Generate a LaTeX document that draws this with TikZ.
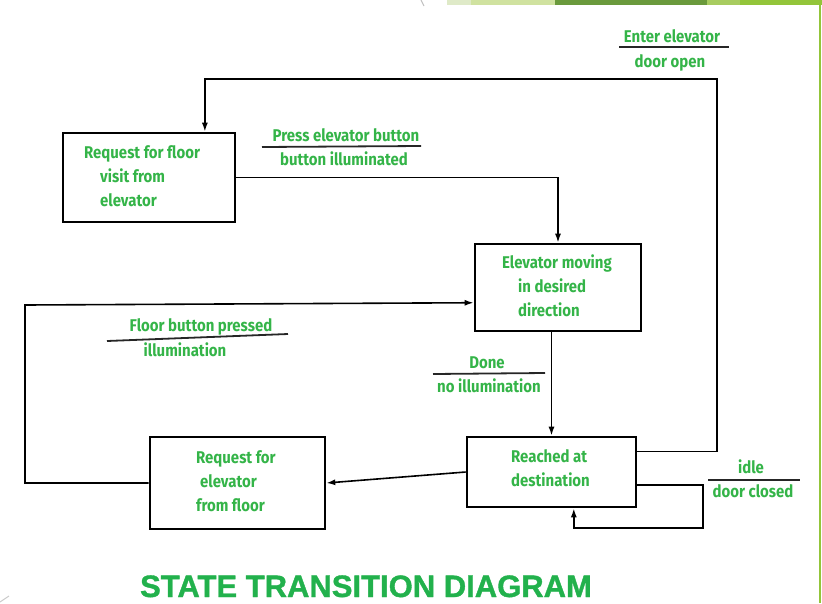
\documentclass[tikz,border=0pt]{standalone}
\usepackage{fontspec}
\setmainfont{Liberation Sans}
\newfontfamily\labfont[FakeStretch=0.88]{Fira Sans}
\newfontfamily\titlefont[FakeBold=1.2]{Liberation Sans}
\usetikzlibrary{arrows.meta,calc}
\definecolor{labgreen}{RGB}{52,180,72}
\definecolor{titlegreen}{RGB}{34,177,76}
\definecolor{barA}{RGB}{223,234,200}
\definecolor{barB}{RGB}{208,226,160}
\definecolor{barC}{RGB}{106,154,60}
\definecolor{barD}{RGB}{168,204,96}
\definecolor{barE}{RGB}{147,197,58}
\tikzset{
  box/.style={draw=black, line width=2.6pt, minimum width=#1, inner sep=0pt},
  txt/.style={text=labgreen, font=\labfont\bfseries\fontsize{17}{24}\selectfont, inner sep=0pt, align=left, anchor=north west},
  lab/.style={text=labgreen, font=\labfont\bfseries\fontsize{17}{24}\selectfont, inner sep=0pt, anchor=base},
  conn/.style={draw=black, line width=1.6pt},
  arr/.style={conn, -{Latex[length=9pt,width=6pt]}},
  rule/.style={draw=black!85, line width=1.8pt}
}
\begin{document}
\begin{tikzpicture}[x=1pt,y=-1pt]
\useasboundingbox (0,0) rectangle (822,603);
% decorative frame
\fill[barA] (447,0) rectangle (471,5);
\fill[barB] (471,0) rectangle (555,5);
\fill[barC] (555,0) rectangle (707,5);
\fill[barD] (707,0) rectangle (740,5);
\fill[barE] (740,0) rectangle (822,5);
\fill[barE] (818.5,0) rectangle (821,603);
\draw[black!25, line width=1pt] (421,0) .. controls (423,3) .. (424,6);
\draw[black!20, line width=1pt] (0,602) -- (9,596);

% boxes
\node[box=172pt, minimum height=89pt] (b1) at (149,177.5) {};
\node[box=166pt, minimum height=87pt] (b2) at (558,287.5) {};
\node[box=169pt, minimum height=70pt] (b3) at (551.5,472) {};
\node[box=175pt, minimum height=92pt] (b4) at (237.5,483) {};

% box texts
\node[txt] (t1) at (84,145) {Request for floor\\\hspace*{16pt}visit from\\\hspace*{16pt}elevator};
\node[txt] (t2) at (502,255) {Elevator moving\\\hspace*{16pt}in desired\\\hspace*{16pt}direction};
\node[txt] (t3) at (511,449) {Reached at\\destination};
\node[txt] (t4) at (196,450) {Request for\\\hspace*{4pt}elevator\\from floor};

% connectors
\draw[arr] (b1.east) -| (b2.north);
\coordinate (c1) at (717,79);
\draw[arr] ($(b3.north east)!0.22!(b3.south east)$) -| (c1) -| ($(b1.north west)!0.82!(b1.north east)$);
\draw[arr] (b2.south -| b3.north) -- (b3.north);
\draw[arr] (b3.west) -- (b4.east);
\coordinate (c2) at (25,305);
\draw[arr] (b4.west) -| (c2) -- ($(b2.north west)!0.67!(b2.south west)$);
\coordinate (c3) at (703,528);
\draw[arr] ($(b3.north east)!0.68!(b3.south east)$) -| (c3) -| ($(b3.south west)!0.63!(b3.south east)$);

% transition labels
\node[lab] (l1a) at (346,141) {Press elevator button};
\draw[rule] (262,147) -- (421,146);
\node[lab] (l1b) at (344,165) {button illuminated};

\node[lab] (l2a) at (672,42) {Enter elevator};
\draw[rule] (619,47) -- (729,47);
\node[lab] (l2b) at (670,67) {door open};

\node[lab] (l3a) at (487,368) {Done};
\draw[rule] (433,374) -- (545,373);
\node[lab] (l3b) at (489,392) {no illumination};

\node[lab] (l4a) at (201,331) {Floor button pressed};
\draw[rule] (107,341) -- (288,334);
\node[lab] (l4b) at (185,356) {illumination};

\node[lab] (l5a) at (751,473) {idle};
\draw[rule] (708,480) -- (800,480);
\node[lab] (l5b) at (753,497) {door closed};

% title
\node[text=titlegreen, font=\titlefont\bfseries\fontsize{31}{34}\selectfont, inner sep=0pt, anchor=base] (title) at (366,597) {STATE TRANSITION DIAGRAM};
\end{tikzpicture}
\end{document}
